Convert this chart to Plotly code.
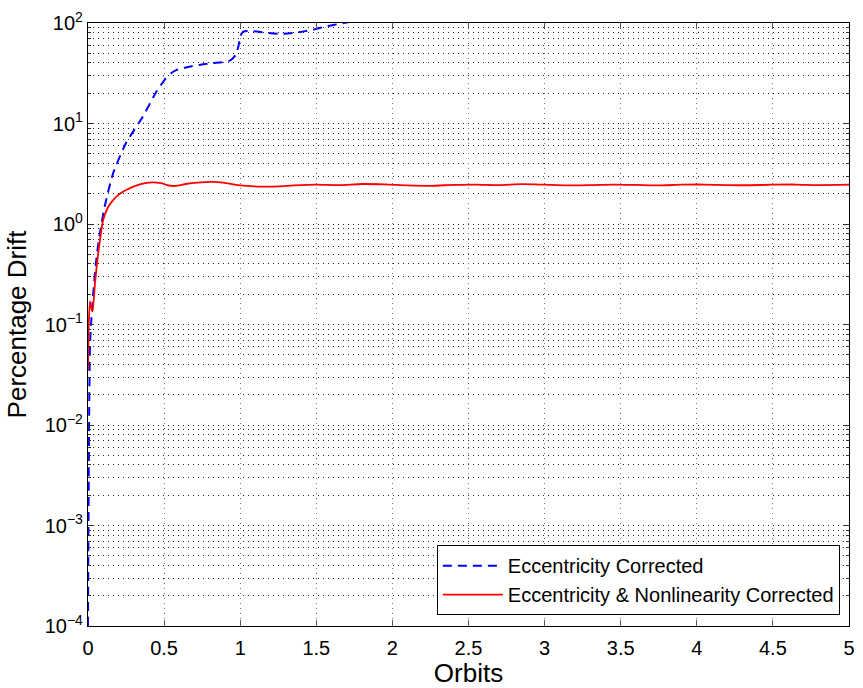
import plotly.graph_objects as go

# Eccentricity Corrected (blue dashed)
x_ecc = [0.0, 0.002, 0.005, 0.008, 0.013, 0.02, 0.035, 0.055, 0.078, 0.11, 0.165, 0.25, 0.36, 0.45, 0.51,
         0.55, 0.58, 0.665, 0.74, 0.82, 0.9, 0.937, 0.97, 0.99, 1.0, 1.02, 1.08, 1.165, 1.26, 1.36, 1.43,
         1.49, 1.556, 1.62, 1.68, 1.75, 1.85]
y_ecc = [0.0001, 0.0005, 0.003, 0.015, 0.06, 0.1, 0.21, 0.45, 0.81, 1.5, 3.2, 6.4, 11.7, 20.8, 28,
         32, 34, 36.7, 38.5, 39.8, 41, 42.6, 48, 60, 73, 82, 83, 80, 78, 80, 83,
         86.5, 92, 96, 100, 104, 110]

# Eccentricity & Nonlinearity Corrected (red solid)
x_nl = [0.0, 0.005, 0.013, 0.02, 0.03, 0.046, 0.067, 0.1, 0.13, 0.165, 0.2, 0.25, 0.34, 0.426, 0.48,
        0.52, 0.556, 0.6, 0.643, 0.72, 0.817, 0.9, 0.99, 1.07, 1.14, 1.25, 1.35, 1.5, 1.65, 1.8,
        1.95, 2.1, 2.25, 2.4, 2.55, 2.7, 2.85, 3.0, 3.15, 3.3, 3.45, 3.6, 3.75, 3.9, 4.05,
        4.2, 4.35, 4.5, 4.65, 4.8, 5.0]
y_nl = [0.035, 0.1, 0.17, 0.15, 0.135, 0.257, 0.51, 1.1, 1.45, 1.73, 1.95, 2.18, 2.48, 2.6, 2.55,
        2.44, 2.39, 2.42, 2.5, 2.58, 2.62, 2.56, 2.44, 2.38, 2.35, 2.37, 2.42, 2.47, 2.44, 2.5,
        2.48, 2.42, 2.4, 2.45, 2.47, 2.44, 2.49, 2.46, 2.42, 2.44, 2.47, 2.45, 2.42, 2.46, 2.47,
        2.44, 2.43, 2.46, 2.47, 2.44, 2.46]

y_tickvals = [1e-4, 1e-3, 1e-2, 1e-1, 1e0, 1e1, 1e2]
y_ticktext = ["10<sup>\u22124</sup>", "10<sup>\u22123</sup>", "10<sup>\u22122</sup>", "10<sup>\u22121</sup>",
              "10<sup>0</sup>", "10<sup>1</sup>", "10<sup>2</sup>"]
x_tickvals = [0, 0.5, 1, 1.5, 2, 2.5, 3, 3.5, 4, 4.5, 5]
x_ticktext = ["0", "0.5", "1", "1.5", "2", "2.5", "3", "3.5", "4", "4.5", "5"]

fig = go.Figure()
fig.add_trace(go.Scatter(x=x_ecc, y=y_ecc, mode="lines", name="Eccentricity Corrected",
                         line=dict(color="#0000ff", width=2, dash="9px,6px", shape="spline", smoothing=0.6)))
fig.add_trace(go.Scatter(x=x_nl, y=y_nl, mode="lines", name="Eccentricity & Nonlinearity Corrected",
                         line=dict(color="#ff0000", width=1.8, shape="spline", smoothing=0.6)))

font_family = "Liberation Sans, Arial, sans-serif"
grid_dash = "1px,4px"
fig.update_layout(
    width=863, height=688,
    margin=dict(l=88, r=8, t=23, b=62),
    paper_bgcolor="white", plot_bgcolor="white",
    font=dict(family=font_family, size=20, color="black"),
    showlegend=True,
    legend=dict(x=0.988, y=0.018, xanchor="right", yanchor="bottom",
                bordercolor="black", borderwidth=1, bgcolor="white",
                font=dict(size=20), tracegroupgap=0, itemwidth=60),
    xaxis=dict(range=[0, 5], tickvals=x_tickvals, ticktext=x_ticktext,
               title=dict(text="Orbits", font=dict(size=26), standoff=0),
               showline=True, linecolor="black", linewidth=1.2, mirror="allticks",
               ticks="inside", ticklen=6, tickcolor="#555555", ticklabelstandoff=4,
               showgrid=True, gridcolor="#777777", griddash=grid_dash, gridwidth=1,
               zeroline=False, tickfont=dict(size=20)),
    yaxis=dict(type="log", range=[-4, 2], tickvals=y_tickvals, ticktext=y_ticktext,
               title=dict(text="Percentage Drift", font=dict(size=26), standoff=10),
               showline=True, linecolor="black", linewidth=1.2, mirror="allticks",
               ticks="inside", ticklen=6, tickcolor="#333333",
               showgrid=True, gridcolor="#222222", griddash=grid_dash, gridwidth=1,
               minor=dict(dtick="D1", ticks="inside", ticklen=3, tickcolor="#333333",
                          showgrid=True, gridcolor="#222222", griddash=grid_dash, gridwidth=1),
               zeroline=False, tickfont=dict(size=20)),
)

fig.write_html("out.html")
